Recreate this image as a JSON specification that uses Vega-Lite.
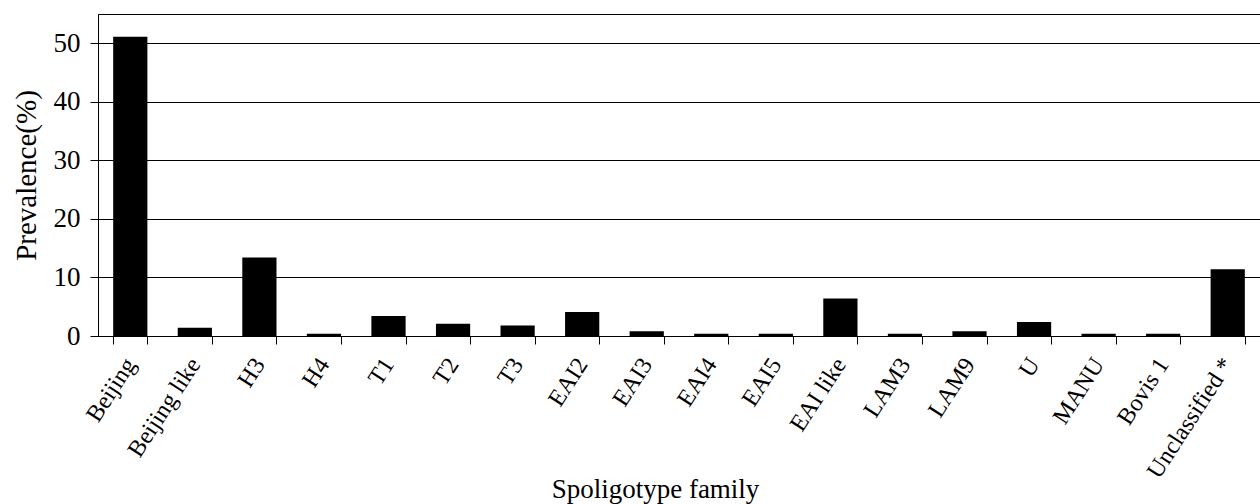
{
  "$schema": "https://vega.github.io/schema/vega-lite/v6.json",
  "width": 1162,
  "height": 322,
  "autosize": {"type": "none"},
  "padding": {"left": 98, "top": 14, "right": 0, "bottom": 168},
  "background": "white",
  "config": {
    "view": {"stroke": "#000", "strokeWidth": 1},
    "font": "Liberation Serif"
  },
  "data": {
    "values": [
      {"family": "Beijing", "prevalence": 51.1},
      {"family": "Beijing like", "prevalence": 1.4},
      {"family": "H3", "prevalence": 13.4},
      {"family": "H4", "prevalence": 0.4},
      {"family": "T1", "prevalence": 3.4},
      {"family": "T2", "prevalence": 2.1},
      {"family": "T3", "prevalence": 1.8},
      {"family": "EAI2", "prevalence": 4.1},
      {"family": "EAI3", "prevalence": 0.8},
      {"family": "EAI4", "prevalence": 0.4},
      {"family": "EAI5", "prevalence": 0.4},
      {"family": "EAI like", "prevalence": 6.4},
      {"family": "LAM3", "prevalence": 0.4},
      {"family": "LAM9", "prevalence": 0.8},
      {"family": "U", "prevalence": 2.4},
      {"family": "MANU", "prevalence": 0.4},
      {"family": "Bovis 1", "prevalence": 0.4},
      {"family": "Unclassified *", "prevalence": 11.4}
    ]
  },
  "mark": {"type": "bar", "color": "#000"},
  "encoding": {
    "x": {
      "field": "family",
      "type": "nominal",
      "sort": null,
      "scale": {"paddingInner": 0.47, "paddingOuter": 0.235},
      "axis": {
        "title": "Spoligotype family",
        "titleFont": "Liberation Serif",
        "titleFontSize": 27,
        "titleFontWeight": "normal",
        "titleColor": "#000",
        "titleX": 557,
        "titleY": 161,
        "titleBaseline": "alphabetic",
        "labelAngle": -57,
        "labelAlign": "right",
        "labelBaseline": "middle",
        "labelFont": "Liberation Serif",
        "labelFontSize": 24,
        "labelColor": "#000",
        "labelPadding": 16,
        "tickBand": "extent",
        "tickSize": 8,
        "tickColor": "#000",
        "domainColor": "#000",
        "labelOverlap": false,
        "labelLimit": 0
      }
    },
    "y": {
      "field": "prevalence",
      "type": "quantitative",
      "scale": {"domain": [0, 55], "nice": false},
      "axis": {
        "title": "Prevalence(%)",
        "titleFont": "Liberation Serif",
        "titleFontSize": 29,
        "titleFontWeight": "normal",
        "titleColor": "#000",
        "titlePadding": 12,
        "values": [0, 10, 20, 30, 40, 50],
        "labelFont": "Liberation Serif",
        "labelFontSize": 27,
        "labelColor": "#000",
        "labelPadding": 10,
        "tickSize": 8,
        "tickColor": "#000",
        "domainColor": "#000",
        "grid": true,
        "gridColor": "#000",
        "gridOpacity": 1
      }
    }
  }
}
